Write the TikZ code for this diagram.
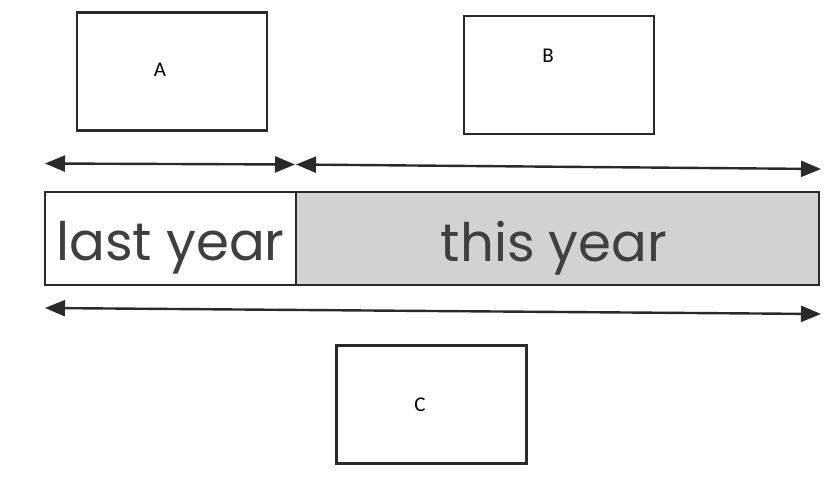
\documentclass[tikz,border=0pt]{standalone}
\usepackage{fontspec}
\setmainfont{Carlito}
\newfontfamily\barfont{Poppins}
\usetikzlibrary{arrows.meta}
\definecolor{ink}{HTML}{2A2A2A}
\definecolor{shade}{HTML}{D2D2D2}
\begin{document}
\begin{tikzpicture}[x=1pt,y=-1pt,
  answerbox/.style={draw=ink,line width=2.6pt,fill=white,minimum width=190pt,minimum height=118pt,inner sep=0pt},
  barcell/.style={draw=ink,line width=2.8pt,inner sep=0pt,minimum height=93pt},
  bartext/.style={font=\barfont\fontsize{53}{53}\selectfont,text=ink!90,anchor=base},
  span/.style={draw=ink,line width=2.4pt,{Triangle[length=20pt,width=16pt]}-{Triangle[length=20pt,width=16pt]}},
  lab/.style={font=\fontsize{21}{21}\selectfont,text=black}]
\useasboundingbox[fill=white] (0,0) rectangle (835,482);
\node[answerbox] (A) at (172,71.5) {};
\node[answerbox] (B) at (559,75) {};
\node[answerbox] (C) at (431.5,404.5) {};
\node[lab] (la) at (160,70) {A};
\node[lab] (lb) at (548,56) {B};
\node[lab] (lc) at (420,405) {C};
\node[barcell,fill=white,minimum width=251pt] (last) at (170.5,238.5) {};
\node[barcell,fill=shade,minimum width=523pt] (this) at (557.5,238.5) {};
\node[bartext] (tl) at (170.5,260) {last year};
\node[bartext] (tt) at (554,261) {this year};
\coordinate (a1) at (45,163.5);
\coordinate (a2) at (295,164.5);
\coordinate (b1) at (296,164.5);
\coordinate (b2) at (821,169);
\coordinate (c1) at (45,308);
\coordinate (c2) at (821,314);
\draw[span] (a1) -- (a2);
\draw[span] (b1) -- (b2);
\draw[span] (c1) -- (c2);
\end{tikzpicture}
\end{document}
